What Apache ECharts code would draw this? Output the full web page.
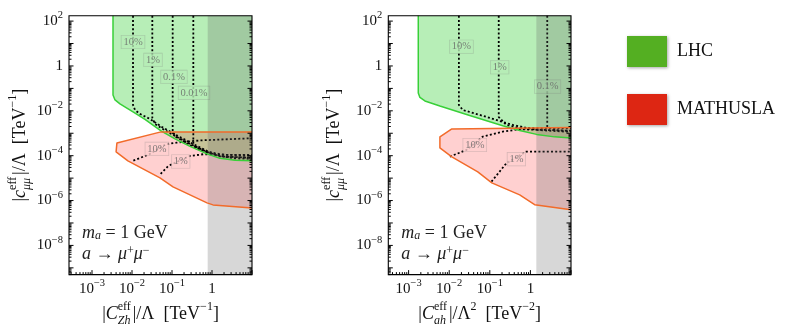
<!DOCTYPE html>
<html>
<head>
<meta charset="utf-8">
<script src="https://cdn.jsdelivr.net/npm/echarts@6/dist/echarts.min.js"></script>
<style>
  html, body { margin: 0; padding: 0; background: #fff; }
  #chart { width: 789px; height: 332px; }
</style>
</head>
<body>
<div id="chart"></div>
<script>
// axis ranges (real values, both axes are log10)
const xRangeZh = [2.66e-4, 10];
const xRangeAh = [3.16e-4, 10];
const yRange = [5e-10, 174];

// start of the grey band on the right of each panel
const grayStartZh = 0.78;
const grayStartAh = 1.4;

// left panel, |C_Zh|/Lambda : [x, y]
const lhcEdgeZh = [[3.35e-3, 174], [3.35e-3, 5.1e-2], [3.76e-3, 3.05e-2], [5.0e-3, 2.03e-2], [1.06e-2, 8.9e-3],
  [2.11e-2, 4.13e-3], [5.3e-2, 1.27e-3], [0.119, 5.6e-4], [0.282, 2.6e-4], [0.75, 1.2e-4], [1.58, 7.6e-5],
  [3.76, 6.2e-5], [10, 5.9e-5]];
const mathEdgeZh = [[10, 1.15e-3], [5.3e-2, 1.15e-3], [4.2e-3, 3.7e-4], [4.0e-3, 1.48e-4], [7.9e-3, 5.9e-5],
  [5.0e-2, 1.03e-5], [0.106, 4.07e-6], [0.75, 7.9e-7], [1.06, 6.4e-7], [10, 4.7e-7]];
const lhc10Zh = [[1.06e-2, 174], [1.06e-2, 1.83e-2], [1.19e-2, 1.09e-2], [1.58e-2, 7.3e-3], [2.8e-2, 4.35e-3],
  [5.3e-2, 2.02e-3], [0.119, 8.9e-4], [0.282, 3.9e-4], [0.75, 1.63e-4], [1.58, 9.8e-5], [3.76, 7.6e-5], [10, 7.2e-5]];
const lhc1Zh = [[3.22e-2, 174], [3.22e-2, 4.8e-3], [3.76e-2, 2.6e-3], [5.3e-2, 1.73e-3], [0.119, 7.6e-4],
  [0.282, 3.35e-4], [0.75, 1.48e-4], [1.58, 9.3e-5], [10, 8.0e-5]];
const lhc01Zh = [[0.104, 174], [0.104, 1.15e-3], [0.126, 6.9e-4], [0.282, 3.0e-4], [0.75, 1.4e-4], [2.11, 8.8e-5], [10, 8.4e-5]];
const lhc001Zh = [[0.341, 174], [0.341, 3.7e-4], [0.4, 2.22e-4], [0.75, 1.48e-4], [2.11, 1.08e-4], [10, 1.08e-4]];
const math10Zh = [[1.08e-2, 6.0e-5], [2.71e-2, 1.16e-4], [7.1e-2, 3.25e-4], [0.131, 3.83e-4], [0.5, 4.8e-4], [10, 6.0e-4]];
const math1Zh = [[5.2e-2, 1.55e-5], [8.1e-2, 3.5e-5], [0.282, 9.8e-5], [0.606, 1.16e-4], [10, 1.03e-4]];
const lhcLabelsZh = [['10%', 1.06e-2, 11.7], ['1%', 3.35e-2, 1.85], ['0.1%', 0.112, 0.323], ['0.01%', 0.355, 6.3e-2]];
const mathLabelsZh = [['10%', 4.2e-2, 2.0e-4], ['1%', 0.165, 5.5e-5]];

// right panel, |C_ah|/Lambda^2
const lhcEdgeAh = [[1.73e-3, 174], [1.73e-3, 6.3e-2], [1.9e-3, 3.95e-2], [2.52e-3, 2.75e-2], [5.9e-3, 1.65e-2],
  [3.2e-2, 6.2e-3], [0.208, 2.15e-3], [0.545, 1.34e-3], [1.42, 8.9e-4], [3.94, 6.9e-4], [10, 6.2e-4]];
const mathEdgeAh = [[10, 1.82e-3], [1.16e-2, 1.56e-3], [5.9e-3, 6.9e-4], [5.9e-3, 2.22e-4], [1.16e-2, 8.8e-5],
  [5.06e-2, 1.9e-5], [0.112, 6.1e-6], [0.545, 1.79e-6], [1.27, 6.5e-7], [10, 3.85e-7]];
const lhc10Ah = [[1.73e-2, 174], [1.73e-2, 1.83e-2], [2.16e-2, 1.09e-2], [8.4e-2, 5.3e-3], [0.366, 2.35e-3], [1.42, 1.41e-3], [10, 1.15e-3]];
const lhc1Ah = [[0.166, 174], [0.166, 5.3e-3], [0.256, 2.35e-3], [0.545, 1.67e-3], [10, 1.67e-3]];
const lhc01Ah = [[2.6, 174], [2.6, 1.9e-3], [5.2, 1.27e-3], [10, 1.27e-3]];
const math10Ah = [[1.04e-2, 9.1e-5], [2.67e-2, 1.81e-4], [6.7e-2, 7.1e-4], [0.208, 1.18e-3], [0.545, 1.51e-3], [10, 1.3e-3]];
const math1Ah = [[0.11, 7.0e-6], [0.256, 4.6e-5], [0.794, 1.52e-4], [10, 1.52e-4]];
const lhcLabelsAh = [['10%', 2.0e-2, 7.2], ['1%', 0.175, 0.875], ['0.1%', 2.65, 0.119]];
const mathLabelsAh = [['10%', 4.27e-2, 3.0e-4], ['1%', 0.452, 7.0e-5]];

const FONT = 'Liberation Serif';
const INK = '#111';
const L = Math.log10;
const toXY = pts => pts.map(p => [L(p[0]), L(p[1])]);

// every piece is a left-aligned rich token so that 'eff' (width 0) stacks over the subscript
const panels = [
  {
    xRange: xRangeZh, gray: grayStartZh, lhcEdge: lhcEdgeZh, mathEdge: mathEdgeZh,
    lines: [lhc10Zh, lhc1Zh, lhc01Zh, lhc001Zh, math10Zh, math1Zh],
    lhcLabels: lhcLabelsZh, mathLabels: mathLabelsZh,
    xName: '{t||}{i|C}{e|eff}{m|Zh}{t||/Λ  [TeV}{p|−1}{t|]}', yGap: 36
  },
  {
    xRange: xRangeAh, gray: grayStartAh, lhcEdge: lhcEdgeAh, mathEdge: mathEdgeAh,
    lines: [lhc10Ah, lhc1Ah, lhc01Ah, math10Ah, math1Ah],
    lhcLabels: lhcLabelsAh, mathLabels: mathLabelsAh,
    xName: '{t||}{i|C}{e|eff}{m|ah}{t||/Λ}{p|2}{t|  [TeV}{p|−2}{t|]}', yGap: 41
  }
];
const yName = '{t||}{i|c}{e|eff}{m|μμ}{t||/Λ  [TeV}{p|−1}{t|]}';

const grids = [
  { left: 69, top: 15.7, width: 183, height: 260 },
  { left: 388.3, top: 15.7, width: 182.7, height: 260 }
];

function expLabel(v, isX) {
  const n = Math.round(v);
  if (Math.abs(v - n) > 1e-6) return '';
  if (isX && n > 0) return '';
  if (n === 0) return '{b|1}';
  return '{b|10}{s|' + (n < 0 ? '−' : '') + Math.abs(n) + '}';
}

const tickRich = {
  b: { fontFamily: FONT, fontSize: 15, color: INK, lineHeight: 22 },
  s: { fontFamily: FONT, fontSize: 10.5, color: INK, verticalAlign: 'top', lineHeight: 11 }
};
const nameRich = {
  t: { fontFamily: FONT, fontSize: 18, color: INK, lineHeight: 26, align: 'left' },
  i: { fontFamily: FONT, fontSize: 18, fontStyle: 'italic', color: INK, lineHeight: 26, align: 'left' },
  e: { fontFamily: FONT, fontSize: 12, color: INK, verticalAlign: 'top', lineHeight: 13, width: 0, align: 'left' },
  m: { fontFamily: FONT, fontSize: 12, fontStyle: 'italic', color: INK, verticalAlign: 'bottom', lineHeight: 12, width: 15, align: 'left' },
  p: { fontFamily: FONT, fontSize: 12, color: INK, verticalAlign: 'top', lineHeight: 12, align: 'left' }
};
const nameStyle = { fontFamily: FONT, fontSize: 18, color: INK, lineHeight: 26, rich: nameRich };

function polygon(name, gi, pts, fill, z) {
  const xy = toXY(pts);
  return {
    name, type: 'custom', xAxisIndex: gi, yAxisIndex: gi, z, silent: true, clip: true,
    data: [xy[0]],
    renderItem: (params, api) => ({
      type: 'polygon',
      shape: { points: xy.map(p => api.coord(p)) },
      style: { fill }
    })
  };
}

function line(gi, pts, color, width, type, z) {
  return {
    type: 'line', xAxisIndex: gi, yAxisIndex: gi, data: toXY(pts), symbol: 'none', z,
    silent: true, clip: true, lineStyle: { color, width, type, cap: 'butt' }
  };
}

function labels(gi, list, bg) {
  return {
    type: 'scatter', xAxisIndex: gi, yAxisIndex: gi, z: 3, symbolSize: 1, silent: true,
    itemStyle: { color: 'transparent' },
    data: list.map(([t, x, y]) => ({ name: t, value: [L(x), L(y)] })),
    label: {
      show: true, position: 'inside', formatter: '{b}', fontFamily: FONT, fontSize: 10.5, color: '#666',
      backgroundColor: bg, padding: [1, 2], borderColor: 'rgba(120,120,120,0.4)', borderWidth: 0.6
    }
  };
}

// log minor/major ticks on left, right and bottom edges, plus the frame
function logTicks(range) {
  const out = [];
  for (let n = Math.floor(L(range[0])); n <= Math.ceil(L(range[1])); n++) {
    for (let k = 1; k <= 9; k++) {
      const v = k * Math.pow(10, n);
      if (v >= range[0] && v <= range[1]) out.push([L(v), k === 1]);
    }
  }
  return out;
}

function ticks(gi, xRange) {
  const xt = logTicks(xRange), yt = logTicks(yRange);
  const x0 = L(xRange[0]), x1 = L(xRange[1]), y0 = L(yRange[0]), y1 = L(yRange[1]);
  return {
    type: 'custom', xAxisIndex: gi, yAxisIndex: gi, z: 6, silent: true, clip: false,
    data: [[x0, y0]],
    renderItem: (params, api) => {
      const st = { stroke: '#000', lineWidth: 1 };
      const kids = [];
      xt.forEach(([v, major]) => {
        const p = api.coord([v, y0]);
        kids.push({ type: 'line', shape: { x1: p[0], y1: p[1], x2: p[0], y2: p[1] - (major ? 4.5 : 2.5) }, style: st });
      });
      yt.forEach(([v, major]) => {
        const a = api.coord([x0, v]), b = api.coord([x1, v]);
        const len = major ? 4.5 : 2.5;
        kids.push({ type: 'line', shape: { x1: a[0], y1: a[1], x2: a[0] + len, y2: a[1] }, style: st });
        kids.push({ type: 'line', shape: { x1: b[0], y1: b[1], x2: b[0] - len, y2: b[1] }, style: st });
      });
      const tl = api.coord([x0, y1]), br = api.coord([x1, y0]);
      kids.push({ type: 'rect', shape: { x: tl[0], y: tl[1], width: br[0] - tl[0], height: br[1] - tl[1] },
        style: { fill: 'none', stroke: '#000', lineWidth: 1.1 } });
      return { type: 'group', children: kids };
    }
  };
}

const series = [];
panels.forEach((p, i) => {
  const xHi = p.xRange[1];
  series.push(polygon('LHC', i, p.lhcEdge.concat([[xHi, yRange[1]]]), 'rgba(50,205,50,0.35)', 1));
  series.push(polygon('MATHUSLA', i, p.mathEdge, 'rgba(255,40,40,0.22)', 1));
  p.lines.forEach(l => series.push(line(i, l, '#000', 1.8, [2, 2.2], 2)));
  series.push(labels(i, p.lhcLabels, '#B7EDB7'));
  series.push(labels(i, p.mathLabels, '#FFD0D0'));
  series.push(polygon('band', i, [[p.gray, yRange[0]], [xHi, yRange[0]], [xHi, yRange[1]], [p.gray, yRange[1]]],
    'rgba(100,100,100,0.26)', 4));
  series.push(line(i, p.lhcEdge, '#38D038', 1.5, 'solid', 5));
  series.push(line(i, p.mathEdge, '#F26B2A', 1.5, 'solid', 5));
  series.push(ticks(i, p.xRange));
});

const annRich = {
  r: { fontFamily: FONT, fontSize: 18, fill: '#222' },
  i: { fontFamily: FONT, fontSize: 18, fontStyle: 'italic', fill: '#222' },
  sb: { fontFamily: FONT, fontSize: 12, fontStyle: 'italic', fill: '#222', verticalAlign: 'bottom', lineHeight: 12 },
  sp: { fontFamily: FONT, fontSize: 12, fill: '#222', verticalAlign: 'top', lineHeight: 12 }
};

const option = {
  animation: false,
  textStyle: { fontFamily: FONT },
  grid: grids,
  xAxis: panels.map((p, i) => ({
    type: 'value', gridIndex: i, min: L(p.xRange[0]), max: L(p.xRange[1]), splitNumber: 5,
    axisLine: { show: false }, axisTick: { show: false }, splitLine: { show: false },
    axisLabel: { margin: 3, interval: 0, formatter: v => expLabel(v, true), rich: tickRich },
    name: p.xName, nameLocation: 'middle', nameGap: 24, nameTextStyle: nameStyle
  })),
  yAxis: panels.map((p, i) => ({
    type: 'value', gridIndex: i, min: L(yRange[0]), max: L(yRange[1]), splitNumber: 5,
    axisLine: { show: false }, axisTick: { show: false }, splitLine: { show: false },
    axisLabel: { margin: 6, interval: 0, formatter: v => expLabel(v, false), rich: tickRich },
    name: yName, nameLocation: 'middle', nameGap: p.yGap, nameTextStyle: nameStyle
  })),
  legend: {
    orient: 'vertical', left: 622, top: 31, itemWidth: 40, itemHeight: 31, itemGap: 27,
    icon: 'rect', selectedMode: false,
    textStyle: { fontFamily: FONT, fontSize: 18, color: INK, padding: [0, 0, 0, 5] },
    data: [
      { name: 'LHC', itemStyle: { color: '#54AF22', shadowBlur: 3, shadowColor: 'rgba(0,0,0,0.35)', shadowOffsetX: 1, shadowOffsetY: 1 } },
      { name: 'MATHUSLA', itemStyle: { color: '#DD2613', shadowBlur: 3, shadowColor: 'rgba(0,0,0,0.35)', shadowOffsetX: 1, shadowOffsetY: 1 } }
    ]
  },
  graphic: grids.flatMap(g => [
    { type: 'text', x: g.left + 13, y: 233, silent: true,
      style: { text: '{i|m}{sb|a}{r| = 1 GeV}', rich: annRich, verticalAlign: 'middle' } },
    { type: 'text', x: g.left + 13, y: 254, silent: true,
      style: { text: '{i|a}{r| → }{i|μ}{sp|+}{i|μ}{sp|−}', rich: annRich, verticalAlign: 'middle' } }
  ]),
  series
};

const myChart = echarts.init(document.getElementById('chart'));
myChart.setOption(option);
window.addEventListener('resize', function () {
  myChart.resize();
});
</script>
</body>
</html>
